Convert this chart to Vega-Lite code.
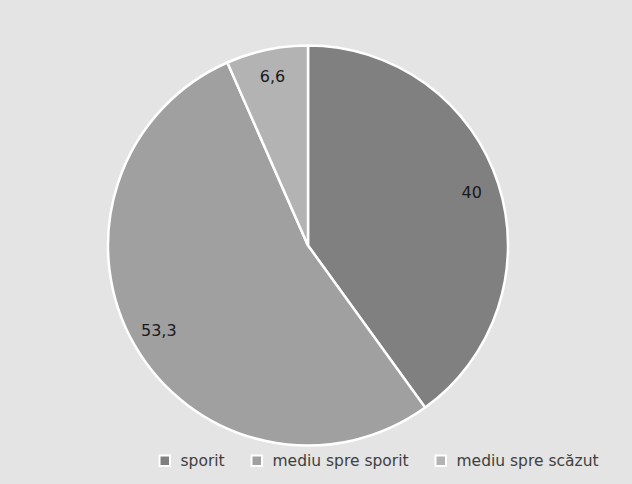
{
  "$schema": "https://vega.github.io/schema/vega-lite/v6.json",
  "width": 625,
  "height": 477,
  "autosize": {"type": "none"},
  "padding": {"left": 7, "top": 7, "right": 0, "bottom": 0},
  "background": "#e4e4e4",
  "config": {
    "view": {"fill": "#e4e4e4", "stroke": "#d9d9d9", "strokeWidth": 1},
    "font": "DejaVu Sans"
  },
  "data": {
    "values": [
      {"cat": "sporit", "val": 40, "label": "40", "ord": 1},
      {"cat": "mediu spre sporit", "val": 53.3, "label": "53,3", "ord": 2},
      {"cat": "mediu spre scăzut", "val": 6.6, "label": "6,6", "ord": 3}
    ]
  },
  "encoding": {
    "theta": {"field": "val", "type": "quantitative", "stack": true},
    "order": {"field": "ord", "type": "quantitative"}
  },
  "layer": [
    {
      "mark": {"type": "arc", "outerRadius": 200, "stroke": "white", "strokeWidth": 2.5, "xOffset": -11.5},
      "encoding": {
        "color": {
          "field": "cat",
          "type": "nominal",
          "sort": ["sporit", "mediu spre sporit", "mediu spre scăzut"],
          "scale": {"domain": ["sporit", "mediu spre sporit", "mediu spre scăzut"], "range": ["#808080", "#a0a0a0", "#b3b3b3"]},
          "legend": {
            "title": null,
            "orient": "none",
            "legendX": 150,
            "legendY": 446,
            "direction": "horizontal",
            "symbolType": "square",
            "symbolSize": 110,
            "symbolStrokeColor": "white",
            "symbolStrokeWidth": 2,
            "symbolOpacity": 1,
            "labelFont": "DejaVu Sans",
            "labelFontSize": 15.5,
            "labelColor": "#404040",
            "labelOffset": 8,
            "columnPadding": 22,
            "labelLimit": 300
          }
        }
      }
    },
    {
      "mark": {"type": "text", "radius": 172, "xOffset": -11.5, "fontSize": 16, "font": "DejaVu Sans", "color": "#1a1a1a"},
      "encoding": {"text": {"field": "label"}}
    }
  ]
}
